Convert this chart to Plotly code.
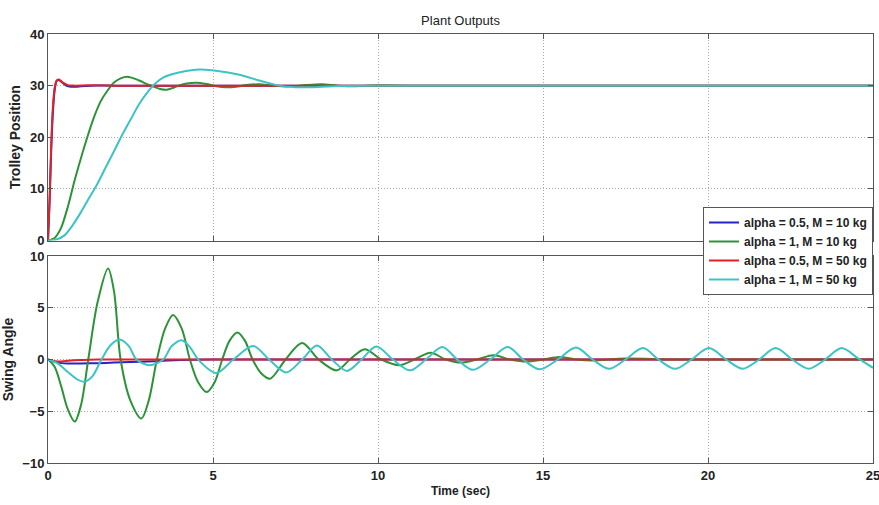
import plotly.graph_objects as go

# ---------------- data ----------------
labels = ["alpha = 0.5, M = 10 kg", "alpha = 1, M = 10 kg",
          "alpha = 0.5, M = 50 kg", "alpha = 1, M = 50 kg"]
colors = ["#2424c8", "#2c9339", "#e42020", "#3cc4c4"]

# Trolley position
blue_pos_t = [0, 0.05, 0.1, 0.15, 0.2, 0.25, 0.3, 0.35, 0.45, 0.55, 0.7, 0.85, 1.0, 1.3, 2.0, 25]
blue_pos = [0, 8, 18, 25, 29, 30.8, 31.1, 31.0, 30.5, 30.0, 29.8, 29.8, 29.9, 30.0, 30.0, 30.0]

green_pos_t = [0, 0.2, 0.4, 0.6, 0.8, 1.0, 1.2, 1.4, 1.6, 1.8, 2.0, 2.2, 2.4, 2.6, 2.8, 3.0,
               3.2, 3.4, 3.6, 3.8, 4.0, 4.2, 4.5, 4.8, 5.1, 5.4, 5.7, 6.0, 6.4, 6.8, 7.3,
               7.8, 8.3, 8.8, 9.3, 10, 11, 25]
green_pos = [0, 0.5, 2.5, 6.5, 11.5, 16, 20.2, 24, 27, 29.0, 30.6, 31.4, 31.7, 31.4, 30.9, 30.3,
             29.8, 29.35, 29.2, 29.6, 30.1, 30.4, 30.55, 30.3, 29.9, 29.7, 29.8, 30.1, 30.25, 30.0, 29.85,
             30.1, 30.25, 30.0, 29.9, 30.05, 30, 30]

red_pos_t = [0, 0.05, 0.1, 0.15, 0.2, 0.27, 0.33, 0.45, 0.6, 0.8, 1.2, 2.0, 25]
red_pos = [0, 8, 19, 26, 29.5, 31.0, 31.2, 30.6, 30.1, 30.0, 30.05, 30.0, 30.0]

cyan_pos_t = [0, 0.25, 0.5, 0.75, 1.0, 1.25, 1.5, 1.75, 2.0, 2.25, 2.5, 2.75, 3.0, 3.25, 3.5,
              3.75, 4.0, 4.6, 5.2, 5.8, 6.4, 7.0, 7.5, 8.0, 8.5, 9.0, 10, 25]
cyan_pos = [0, 0.2, 1.0, 3.0, 5.5, 8.3, 11, 14.2, 17.3, 20.5, 23.4, 26.3, 28.6, 30.4, 31.6,
            32.2, 32.6, 33.1, 32.8, 32.1, 31.0, 30.0, 29.7, 29.7, 29.85, 29.95, 30, 30]

# Swing angle
blue_sw_t = [0, 0.3, 0.6, 1.0, 1.5, 2.0, 2.5, 3.0, 3.5, 4.0, 5.0, 25]
blue_sw = [0, -0.3, -0.38, -0.38, -0.35, -0.3, -0.25, -0.2, -0.12, -0.05, 0, 0]

green_sw_t = [0, 0.2, 0.4, 0.6, 0.81, 1.0, 1.22, 1.5, 1.82, 2.0, 2.2, 2.5, 2.83, 3.05, 3.3,
              3.55, 3.79, 4.05, 4.3, 4.55, 4.81, 5.05, 5.28, 5.5, 5.74, 5.97, 6.2, 6.45, 6.73,
              7.2, 7.7, 8.2, 8.75, 9.15, 9.6, 10.1, 10.65, 11.1, 11.6, 12.05, 12.5, 13.0, 13.5,
              14.0, 14.5, 15.0, 15.5, 16.0, 16.5, 17.5, 19, 25]
green_sw = [0, -0.7, -2.6, -4.8, -6.0, -4.4, 0, 5.5, 8.8, 6.6, 0, -4.0, -5.7, -4.0, 0,
            3.0, 4.3, 3.0, 0, -2.2, -3.15, -2.2, 0, 1.8, 2.6, 1.8, 0, -1.3, -1.85,
            0, 1.6, 0, -1.05, 0, 1.0, 0, -0.55, 0, 0.65, 0, -0.3, 0, 0.4,
            0, -0.2, 0, 0.25, 0, -0.1, 0.1, 0, 0]

red_sw_t = [0, 0.15, 0.3, 0.6, 1.0, 1.5, 25]
red_sw = [0, -0.15, -0.2, -0.12, -0.05, 0, 0]

cyan_sw_t = [0, 0.3, 0.6, 0.85, 1.1, 1.35, 1.62, 1.9, 2.17, 2.45, 2.68, 3.08, 3.49, 3.75, 4.05,
             4.3, 4.55, 5.1, 5.62, 6.22, 6.7, 7.22, 7.7, 8.15, 8.6, 9.06, 9.5, 9.95, 10.45,
             10.97, 11.45, 11.95, 12.4, 12.88, 13.4, 13.93, 14.4, 14.9, 15.45, 16.0, 16.5,
             17.0, 17.5, 18.03, 18.5, 19.0, 19.5, 20.03, 20.55, 21.05, 21.55, 22.05, 22.55,
             23.05, 23.55, 24.05, 24.55, 25]
cyan_sw = [0, -0.4, -1.2, -1.85, -2.15, -1.6, 0, 1.4, 1.94, 1.3, 0, -0.55, 0, 1.3, 1.87,
           1.2, 0, -1.3, 0, 1.3, 0, -1.25, 0, 1.35, 0, -1.1, 0, 1.25, 0,
           -1.05, 0, 1.2, 0, -1.0, 0, 1.2, 0, -0.95, 0, 1.15, 0,
           -0.9, 0, 1.1, 0, -0.9, 0, 1.1, 0, -0.9, 0, 1.1, 0,
           -0.9, 0, 1.1, 0.1, -0.8]

pos_series = [(blue_pos_t, blue_pos), (green_pos_t, green_pos), (red_pos_t, red_pos), (cyan_pos_t, cyan_pos)]
sw_series = [(blue_sw_t, blue_sw), (green_sw_t, green_sw), (red_sw_t, red_sw), (cyan_sw_t, cyan_sw)]

# ---------------- figure ----------------
FONT = "Liberation Sans, Arial, sans-serif"
fig = go.Figure()

for i, (t, y) in enumerate(pos_series):
    fig.add_trace(go.Scatter(x=t, y=y, mode="lines", name=labels[i], legendgroup=labels[i],
                             line=dict(color=colors[i], width=2, shape="spline", smoothing=0.7),
                             xaxis="x", yaxis="y"))
for i, (t, y) in enumerate(sw_series):
    fig.add_trace(go.Scatter(x=t, y=y, mode="lines", name=labels[i], legendgroup=labels[i],
                             showlegend=False,
                             line=dict(color=colors[i], width=2, shape="spline", smoothing=0.9),
                             xaxis="x2", yaxis="y2"))

axis_common = dict(showline=True, linecolor="#555555", linewidth=1, mirror="ticks",
                   ticks="inside", ticklen=5, tickcolor="#555555",
                   showgrid=True, gridcolor="#a8a8a8", griddash="1px,2px", gridwidth=1,
                   zeroline=False, automargin=False,
                   tickfont=dict(family=FONT, size=13, color="#222222", weight="bold"))

top_dom = [0.5186, 1.0]
bot_dom = [0.0, 0.4825]

fig.update_layout(
    width=879, height=505,
    margin=dict(l=48, r=6, t=34, b=42),
    paper_bgcolor="white", plot_bgcolor="white",
    font=dict(family=FONT, color="#222222"),
    title=dict(text="Plant Outputs", x=0.5, xref="paper", xanchor="center",
               y=1 - 20 / 505, yanchor="middle", automargin=False,
               font=dict(family=FONT, size=13, color="#222222")),
    xaxis=dict(axis_common, domain=[0, 1], anchor="y", range=[0, 25], dtick=5,
               showticklabels=False),
    yaxis=dict(axis_common, domain=top_dom, anchor="x", range=[0, 40], dtick=10,
               title=dict(text="Trolley Position", standoff=6,
                          font=dict(family=FONT, size=14, color="#222222", weight="bold"))),
    xaxis2=dict(axis_common, domain=[0, 1], anchor="y2", range=[0, 25], dtick=5,
                ticklabeloverflow="allow",
                title=dict(text="Time (sec)", standoff=5,
                           font=dict(family=FONT, size=12, color="#222222", weight="bold"))),
    yaxis2=dict(axis_common, domain=bot_dom, anchor="x2", range=[-10, 10], dtick=5,
                title=dict(text="Swing Angle", standoff=6,
                           font=dict(family=FONT, size=14, color="#222222", weight="bold"))),
    legend=dict(x=1, xanchor="right", y=(463 - 207) / 429, yanchor="top",
                bgcolor="white", bordercolor="#555555", borderwidth=1,
                itemwidth=30, tracegroupgap=0,
                font=dict(family=FONT, size=12, color="#222222", weight="bold")),
    showlegend=True,
)

fig.write_html("out.html")
